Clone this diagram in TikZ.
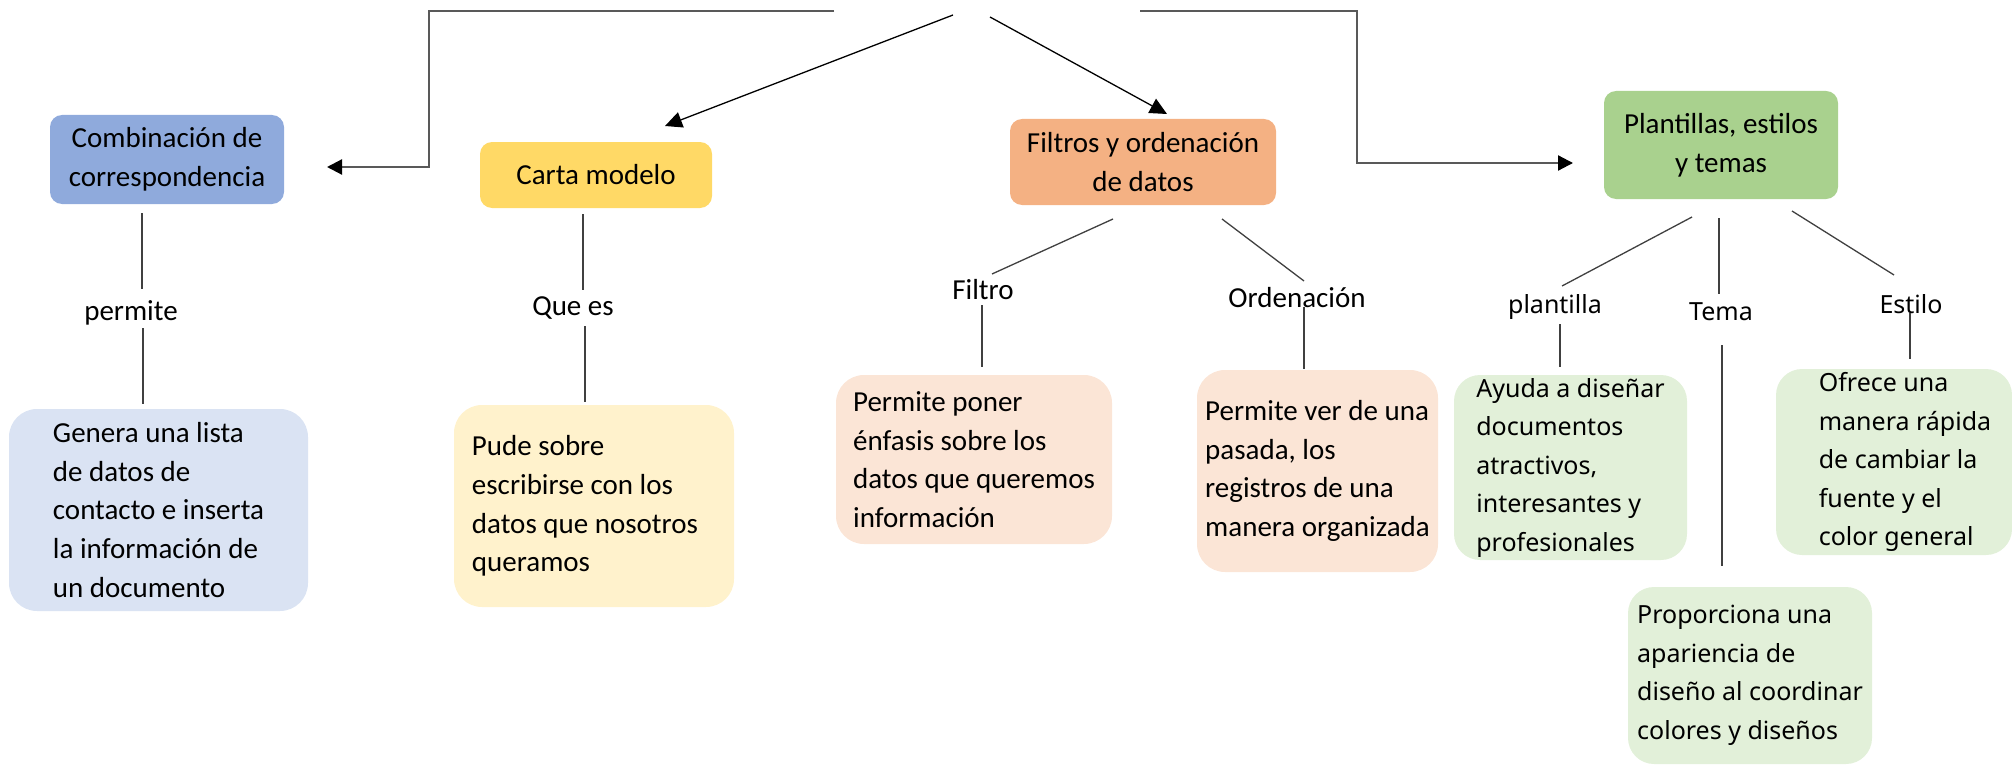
\documentclass[tikz,border=0pt]{standalone}
\usepackage{fontspec}
\setmainfont{Carlito}
\newfontfamily\notofont{Noto Sans}
\usetikzlibrary{arrows.meta}
\definecolor{cblue}{HTML}{8FAADC}
\definecolor{cyellow}{HTML}{FFD966}
\definecolor{corange}{HTML}{F4B183}
\definecolor{cgreen}{HTML}{A9D18E}
\definecolor{lblue}{HTML}{DAE3F3}
\definecolor{lyellow}{HTML}{FFF2CC}
\definecolor{lorange}{HTML}{FBE5D6}
\definecolor{lgreen}{HTML}{E2F0D9}
\definecolor{topline}{HTML}{595959}
\definecolor{thinline}{HTML}{404040}
\begin{document}
\begin{tikzpicture}[x=1pt,y=-1pt,
  titlebox/.style={rounded corners=12pt, align=center, inner sep=0pt, font=\fontsize{29}{38.7}\selectfont},
  infobox/.style={rounded corners=28pt, align=left, inner sep=0pt, font=\fontsize{29}{38.7}\selectfont},
  infoboxr/.style={rounded corners=26pt, align=left, inner sep=0pt, font=\notofont\fontsize{25}{38.5}\selectfont},
  lbl/.style={inner sep=0pt, font=\fontsize{29}{34}\selectfont},
  lblr/.style={inner sep=0pt, font=\notofont\fontsize{25}{30}\selectfont},
  conn/.style={draw=thinline, line width=1.3pt},
  mainarrow/.style={draw=topline, line width=2.2pt, -{Triangle[length=15pt,width=15pt,color=black]}},
  diagarrow/.style={draw=black, line width=1.3pt, -{Triangle[length=17pt,width=16pt]}}
]
\useasboundingbox (0,0) rectangle (2012,765);

% title boxes
\node[titlebox, fill=cblue, minimum width=234pt, minimum height=89pt] (comb) at (167,159.5) {Combinación de\\correspondencia};
\node[titlebox, fill=cyellow, minimum width=232pt, minimum height=66pt] (carta) at (596,175) {Carta modelo};
\node[titlebox, fill=corange, minimum width=266pt, minimum height=86pt] (filtros) at (1143,162) {Filtros y ordenación\\de datos};
\node[titlebox, fill=cgreen, minimum width=234pt, minimum height=108pt] (plant) at (1721,145) {Plantillas, estilos\\y temas};

% labels
\node[lbl] (permite) at (131,313) {permite};
\node[lbl] (quees) at (573,308) {Que es};
\node[lbl] (filtro) at (983,290) {Filtro};
\node[lbl] (orden) at (1297,298) {Ordenación};
\node[lblr] (plantilla) at (1555,307) {plantilla};
\node[lblr] (tema) at (1721,312) {Tema};
\node[lblr] (estilo) at (1911,304) {Estilo};

% info boxes
\node[infobox, fill=lblue, minimum width=299pt, minimum height=202pt] (genera) at (158.5,510) {Genera una lista\\de datos de\\contacto e inserta\\la información de\\un documento};
\node[infobox, fill=lyellow, minimum width=280pt, minimum height=202pt] (pude) at (594,506) {Pude sobre\\escribirse con los\\datos que nosotros\hspace*{18pt}\mbox{}\\queramos};
\node[infobox, fill=lorange, minimum width=276pt, minimum height=169pt] (poner) at (974,459.5) {Permite poner\\énfasis sobre los\\datos que queremos\\información};
\node[infobox, fill=lorange, minimum width=241pt, minimum height=202pt] (verde) at (1317.5,471) {Permite ver de una\\pasada, los\\registros de una\\manera organizada};
\node[infoboxr, fill=lgreen, minimum width=233pt, minimum height=185pt] (ayuda) at (1570.5,467.5) {Ayuda a diseñar\\documentos\\atractivos,\\interesantes y\\profesionales};
\node[infoboxr, fill=lgreen, minimum width=236pt, minimum height=186pt] (ofrece) at (1894,462) {\hspace*{22pt}Ofrece una\\\hspace*{22pt}manera rápida\\\hspace*{22pt}de cambiar la\\\hspace*{22pt}fuente y el\\\hspace*{22pt}color general};
\node[infoboxr, fill=lgreen, minimum width=244pt, minimum height=177pt] (propor) at (1750,675.5) {Proporciona una\\apariencia de\\diseño al coordinar\\colores y diseños};

% free ends of the top connectors
\coordinate (rootL) at (834,11);
\coordinate (bendLa) at (429,11);
\coordinate (bendLb) at (429,167);
\coordinate (tipL) at (327,167);
\coordinate (rootR) at (1140,11);
\coordinate (bendRa) at (1357,11);
\coordinate (bendRb) at (1357,163);
\coordinate (tipR) at (1573,163);
\coordinate (rootDL) at (953,15);
\coordinate (tipDL) at (665,126);
\coordinate (rootDR) at (990,17);
\coordinate (tipDR) at (1167,114);

\draw[mainarrow] (rootL) -- (bendLa) -- (bendLb) -- (tipL);
\draw[mainarrow] (rootR) -- (bendRa) -- (bendRb) -- (tipR);
\draw[diagarrow] (rootDL) -- (tipDL);
\draw[diagarrow] (rootDR) -- (tipDR);

% connector ends
\coordinate (c1a) at (142,213); \coordinate (c1b) at (142,289);
\coordinate (c1c) at (143,328); \coordinate (c1d) at (143,404);
\coordinate (c2a) at (583,214); \coordinate (c2b) at (583,290);
\coordinate (c2c) at (585,326); \coordinate (c2d) at (585,402);
\coordinate (c3a) at (1113,219); \coordinate (c3b) at (992,274);
\coordinate (c3c) at (982,305); \coordinate (c3d) at (982,367);
\coordinate (c4a) at (1222,219); \coordinate (c4b) at (1304,281);
\coordinate (c4c) at (1304,307); \coordinate (c4d) at (1304,369);
\coordinate (c5a) at (1692,217); \coordinate (c5b) at (1562,286);
\coordinate (c5c) at (1560,324); \coordinate (c5d) at (1560,367);
\coordinate (c6a) at (1719,218); \coordinate (c6b) at (1719,294);
\coordinate (c6c) at (1722,345); \coordinate (c6d) at (1722,566);
\coordinate (c7a) at (1792,211); \coordinate (c7b) at (1894,275);
\coordinate (c7c) at (1910,313); \coordinate (c7d) at (1910,359);

\draw[conn] (c1a) -- (c1b); \draw[conn] (c1c) -- (c1d);
\draw[conn] (c2a) -- (c2b); \draw[conn] (c2c) -- (c2d);
\draw[conn] (c3a) -- (c3b); \draw[conn] (c3c) -- (c3d);
\draw[conn] (c4a) -- (c4b); \draw[conn] (c4c) -- (c4d);
\draw[conn] (c5a) -- (c5b); \draw[conn] (c5c) -- (c5d);
\draw[conn] (c6a) -- (c6b); \draw[conn] (c6c) -- (c6d);
\draw[conn] (c7a) -- (c7b); \draw[conn] (c7c) -- (c7d);
\end{tikzpicture}
\end{document}
